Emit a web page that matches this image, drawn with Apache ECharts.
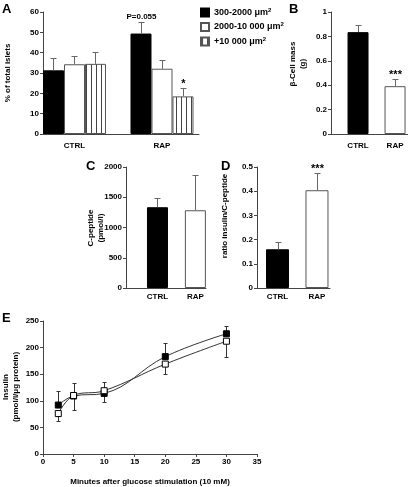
<!DOCTYPE html>
<html><head><meta charset="utf-8">
<script src="https://cdn.jsdelivr.net/npm/echarts@6/dist/echarts.min.js"></script>
<style>html,body{margin:0;padding:0;background:#fff}#c{width:408px;height:487px}</style>
</head><body><div id="c"></div>
<script>
// ---------- DATA ----------
const groups = ['CTRL', 'RAP'];
const sizeClasses = ['300-2000', '2000-10 000', '+10 000'];
// Panel A: % of total islets
const islet300 = [31.3, 49.4];
const islet300Err = [37.6, 55.2];
const islet2000 = [34.3, 32.1];
const islet2000Err = [38.6, 36.5];
const islet10000 = [34.5, 18.5];
const islet10000Err = [40.1, 22.8];
const annot300 = ['', 'P=0.055'];
const annot10000 = ['', '*'];
// Panel B: beta-cell mass (g)
const betaMass = [0.835, 0.392];
const betaMassErr = [0.895, 0.45];
const betaAnnot = ['', '***'];
// Panel C: C-peptide (pmol/l)
const cPeptide = [1335, 1285];
const cPeptideErr = [1495, 1870];
// Panel D: ratio insulin / C-peptide
const ratio = [0.16, 0.404];
const ratioErr = [0.19, 0.475];
const ratioAnnot = ['', '***'];
// Panel E: insulin after glucose stimulation
const minutes = [2.5, 5, 10, 20, 30];
const insulinCtrl = [92, 109, 114, 183, 226];
const insulinCtrlErr = [118, 134, 136, 208, 240];
const insulinRap = [76, 110, 119, 169, 212];
const insulinRapErr = [62, 83, 97, 150, 183];

// ---------- STYLE ----------
const F = '"Liberation Sans", Arial, sans-serif';
const AX = '#444';
const ERR = '#666';

function stripePattern() {
  const c = document.createElement('canvas');
  c.width = 5; c.height = 4;
  const g = c.getContext('2d');
  g.fillStyle = '#fff'; g.fillRect(0, 0, 5, 4);
  g.fillStyle = '#444'; g.fillRect(1, 0, 1, 4);
  return c;
}
const stripes = { image: stripePattern(), repeat: 'repeat' };

function yAx(grid, max, interval) {
  return {
    type: 'value', gridIndex: grid, min: 0, max: max, interval: interval,
    axisLine: { show: true, onZero: false, lineStyle: { color: AX } },
    axisTick: { show: true, length: 3, lineStyle: { color: AX } },
    splitLine: { show: false },
    axisLabel: { fontFamily: F, fontWeight: 'bold', fontSize: 8, color: '#000', margin: 4,
      formatter: v => String(+v.toFixed(6)) }
  };
}
function xCat(grid, min, max, margin) {
  return {
    type: 'value', gridIndex: grid, min: min, max: max,
    axisLine: { show: true, onZero: false, lineStyle: { color: AX } },
    axisTick: { show: false }, splitLine: { show: false },
    axisLabel: { customValues: [0, 1], formatter: v => groups[Math.round(v)],
      fontFamily: F, fontWeight: 'bold', fontSize: 8, color: '#000', margin: margin }
  };
}
function errSeries(idx, vals, tops, offset, labels, z) {
  return {
    type: 'custom', xAxisIndex: idx, yAxisIndex: idx, z: z == null ? 5 : z, silent: true,
    data: vals.map((v, i) => [i, v, tops[i]]),
    renderItem: (params, api) => {
      const p0 = api.coord([api.value(0), api.value(1)]);
      const p1 = api.coord([api.value(0), api.value(2)]);
      const cx = Math.round(p0[0] + offset) + 0.5;
      const y1 = Math.round(p1[1]) + 0.5;
      const st = { stroke: ERR, lineWidth: 1 };
      const ch = [
        { type: 'line', shape: { x1: cx, y1: p0[1], x2: cx, y2: y1 }, style: st },
        { type: 'line', shape: { x1: cx - 3, y1: y1, x2: cx + 3, y2: y1 }, style: st }
      ];
      const t = labels ? labels[params.dataIndex] : '';
      if (t) {
        const star = t.indexOf('*') === 0;
        ch.push({ type: 'text', style: { text: t, x: cx, y: star ? y1 + 1 : y1 - 2, align: 'center',
          verticalAlign: 'bottom', font: 'bold ' + (star ? 11 : 8) + 'px ' + F, fill: '#000' } });
      }
      return { type: 'group', children: ch };
    }
  };
}
function lineErr(idx, xs, vals, ends) {
  return {
    type: 'custom', xAxisIndex: idx, yAxisIndex: idx, z: 1, silent: true,
    data: xs.map((x, i) => [x, vals[i], ends[i]]),
    renderItem: (params, api) => {
      const p0 = api.coord([api.value(0), api.value(1)]);
      const p1 = api.coord([api.value(0), api.value(2)]);
      const cx = Math.round(p0[0]) + 0.5;
      const y1 = Math.round(p1[1]) + 0.5;
      const st = { stroke: '#333', lineWidth: 1 };
      return { type: 'group', children: [
        { type: 'line', shape: { x1: cx, y1: p0[1], x2: cx, y2: y1 }, style: st },
        { type: 'line', shape: { x1: cx - 2, y1: y1, x2: cx + 2, y2: y1 }, style: st }
      ] };
    }
  };
}
const pair = arr => arr.map((v, i) => [i, v]);
const bold = s => ({ font: 'bold ' + s + 'px ' + F, fill: '#000' });

const option = {
  animation: false,
  backgroundColor: '#fff',
  grid: [
    { left: 43, top: 12, width: 156, height: 122 },   // A
    { left: 331, top: 12, width: 77, height: 122 },   // B
    { left: 126, top: 167, width: 80, height: 121 },  // C
    { left: 257, top: 167, width: 73, height: 121 },  // D
    { left: 43, top: 321, width: 214, height: 133 }   // E
  ],
  xAxis: [
    xCat(0, -0.36, 1.423, 8),
    xCat(1, -0.73, 1.35, 8),
    xCat(2, -0.83, 1.28, 5),
    xCat(3, -0.52, 1.33, 5),
    { type: 'value', gridIndex: 4, min: 0, max: 35, interval: 5,
      axisLine: { show: true, onZero: false, lineStyle: { color: AX } },
      axisTick: { show: true, length: 3, lineStyle: { color: AX } },
      splitLine: { show: false },
      axisLabel: { fontFamily: F, fontWeight: 'bold', fontSize: 8, color: '#000', margin: 4 },
      name: 'Minutes after glucose stimulation (10 mM)', nameLocation: 'middle', nameGap: 24,
      nameTextStyle: { fontFamily: F, fontWeight: 'bold', fontSize: 8, color: '#000' } }
  ],
  yAxis: [
    yAx(0, 60, 10), yAx(1, 1, 0.2), yAx(2, 2000, 500), yAx(3, 0.5, 0.1), yAx(4, 250, 50)
  ],
  legend: {
    orient: 'vertical', left: 200, top: 7, padding: 0, itemWidth: 8, itemHeight: 8, itemGap: 4,
    icon: 'rect', data: sizeClasses,
    formatter: n => '{t|' + n + ' \u03bcm}{s|2}',
    textStyle: { rich: {
      t: { fontFamily: F, fontWeight: 'bold', fontSize: 9, color: '#000', lineHeight: 11 },
      s: { fontFamily: F, fontWeight: 'bold', fontSize: 6, color: '#000', verticalAlign: 'top', lineHeight: 11, padding: [0, 0, 4, 0] }
    } }
  },
  series: [
    // Panel A bars
    { type: 'bar', name: sizeClasses[0], xAxisIndex: 0, yAxisIndex: 0, barWidth: 21, barGap: '0%',
      data: pair(islet300), itemStyle: { color: '#000', borderColor: '#000', borderWidth: 1 } },
    { type: 'bar', name: sizeClasses[1], xAxisIndex: 0, yAxisIndex: 0, barWidth: 21, barGap: '0%',
      data: pair(islet2000), itemStyle: { color: '#fff', borderColor: '#555', borderWidth: 1 } },
    { type: 'bar', name: sizeClasses[2], xAxisIndex: 0, yAxisIndex: 0, barWidth: 21, barGap: '0%',
      data: pair(islet10000), itemStyle: { color: stripes, borderColor: '#555', borderWidth: 1 } },
    errSeries(0, islet300, islet300Err, -21, annot300),
    errSeries(0, islet2000, islet2000Err, 0, null),
    errSeries(0, islet10000, islet10000Err, 21, annot10000),
    // Panel B
    { type: 'bar', xAxisIndex: 1, yAxisIndex: 1, barWidth: 21,
      data: [ { value: [0, betaMass[0]], itemStyle: { color: '#000', borderColor: '#000', borderWidth: 1 } },
              { value: [1, betaMass[1]], itemStyle: { color: '#fff', borderColor: '#555', borderWidth: 1 } } ] },
    errSeries(1, betaMass, betaMassErr, 0, betaAnnot),
    // Panel C
    { type: 'bar', xAxisIndex: 2, yAxisIndex: 2, barWidth: 21,
      data: [ { value: [0, cPeptide[0]], itemStyle: { color: '#000', borderColor: '#000', borderWidth: 1 } },
              { value: [1, cPeptide[1]], itemStyle: { color: '#fff', borderColor: '#555', borderWidth: 1 } } ] },
    errSeries(2, cPeptide, cPeptideErr, 0, null),
    // Panel D
    { type: 'bar', xAxisIndex: 3, yAxisIndex: 3, barWidth: 23,
      data: [ { value: [0, ratio[0]], itemStyle: { color: '#000', borderColor: '#000', borderWidth: 1 } },
              { value: [1, ratio[1]], itemStyle: { color: '#fff', borderColor: '#555', borderWidth: 1 } } ] },
    errSeries(3, ratio, ratioErr, 0, ratioAnnot),
    // Panel E
    lineErr(4, minutes, insulinCtrl, insulinCtrlErr),
    lineErr(4, minutes, insulinRap, insulinRapErr),
    { type: 'line', xAxisIndex: 4, yAxisIndex: 4, smooth: 0.4, z: 3,
      data: minutes.map((m, i) => [m, insulinCtrl[i]]),
      symbol: 'rect', symbolSize: 6, showAllSymbol: true,
      lineStyle: { color: '#333', width: 1 },
      itemStyle: { color: '#000', borderColor: '#000', borderWidth: 1 } },
    { type: 'line', xAxisIndex: 4, yAxisIndex: 4, smooth: 0.4, z: 4,
      data: minutes.map((m, i) => [m, insulinRap[i]]),
      symbol: 'rect', symbolSize: 6, showAllSymbol: true,
      lineStyle: { color: '#333', width: 1 },
      itemStyle: { color: '#fff', borderColor: '#000', borderWidth: 1 } }
  ],
  graphic: [
    { type: 'text', left: 2, top: 3, style: Object.assign({ text: 'A' }, bold(13)) },
    { type: 'text', left: 289, top: 3, style: Object.assign({ text: 'B' }, bold(13)) },
    { type: 'text', left: 86, top: 160, style: Object.assign({ text: 'C' }, bold(13)) },
    { type: 'text', left: 221, top: 160, style: Object.assign({ text: 'D' }, bold(13)) },
    { type: 'text', left: 2, top: 312, style: Object.assign({ text: 'E' }, bold(13)) },
    { type: 'text', x: 8, y: 73, rotation: Math.PI / 2,
      style: Object.assign({ text: '% of total islets', align: 'center', verticalAlign: 'middle' }, bold(8)) },
    { type: 'text', x: 297.5, y: 64, rotation: Math.PI / 2,
      style: Object.assign({ text: '\u03b2-Cell mass\n(g)', align: 'center', verticalAlign: 'middle', lineHeight: 10 }, bold(8)) },
    { type: 'text', x: 96, y: 228, rotation: Math.PI / 2,
      style: Object.assign({ text: 'C-peptide\n(pmol/l)', align: 'center', verticalAlign: 'middle', lineHeight: 10 }, bold(8)) },
    { type: 'text', x: 225, y: 216, rotation: Math.PI / 2,
      style: Object.assign({ text: 'ratio insulin/C-peptide', align: 'center', verticalAlign: 'middle' }, bold(8)) },
    { type: 'text', x: 10.5, y: 387, rotation: Math.PI / 2,
      style: Object.assign({ text: 'Insulin\n(pmol/l/\u03bcg protein)', align: 'center', verticalAlign: 'middle', lineHeight: 10 }, bold(8)) }
  ]
};
const chart = echarts.init(document.getElementById('c'));
chart.setOption(option);
</script>
</body></html>
